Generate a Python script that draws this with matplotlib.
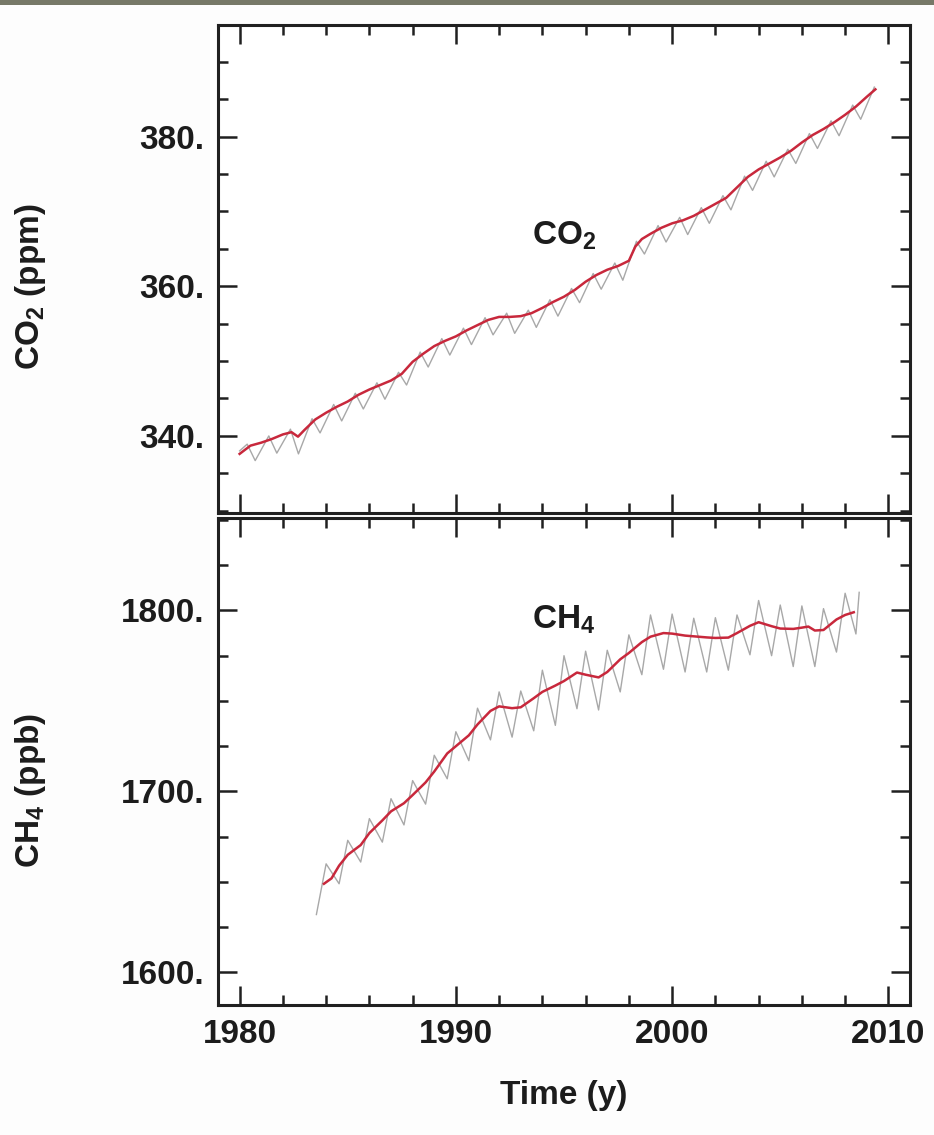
import numpy as np
import matplotlib
matplotlib.use("Agg")
import matplotlib.pyplot as plt
from matplotlib.ticker import MultipleLocator, FormatStrFormatter
from matplotlib.patches import Rectangle

plt.rcParams['font.family'] = ['Liberation Sans', 'DejaVu Sans']
plt.rcParams['font.weight'] = 'bold'
plt.rcParams['axes.labelweight'] = 'bold'
plt.rcParams['mathtext.fontset'] = 'custom'
plt.rcParams['mathtext.rm'] = 'Liberation Sans:bold'
plt.rcParams['mathtext.it'] = 'Liberation Sans:bold'
plt.rcParams['mathtext.bf'] = 'Liberation Sans:bold'
plt.rcParams['mathtext.default'] = 'rm'

# CO2 trend (red)
co2_t = [1980.0, 1980.5, 1981.0, 1981.5, 1982.0, 1982.4, 1982.7, 1983.0, 1983.5, 1984.0,
         1984.5, 1985.0, 1985.5, 1986.0, 1986.5, 1987.0, 1987.5, 1988.0, 1988.5, 1989.0,
         1989.5, 1990.0, 1990.5, 1991.0, 1991.5, 1992.0, 1992.5, 1993.0, 1993.5, 1994.0,
         1994.5, 1995.0, 1995.5, 1996.0, 1996.5, 1997.0, 1997.5, 1998.0, 1998.3, 1998.6,
         1999.0, 1999.5, 2000.0, 2000.5, 2001.0, 2001.5, 2002.0, 2002.5, 2003.0, 2003.5,
         2004.0, 2004.5, 2005.0, 2005.5, 2006.0, 2006.5, 2007.0, 2007.5, 2008.0, 2008.5,
         2009.0, 2009.4]
co2_trend = [337.6, 338.7, 339.1, 339.6, 340.2, 340.5, 339.9, 340.8, 342.2, 343.1,
             343.9, 344.6, 345.5, 346.2, 346.8, 347.4, 348.3, 349.9, 351.0, 352.0,
             352.7, 353.3, 354.1, 354.8, 355.5, 355.9, 355.9, 356.0, 356.4, 357.1,
             357.9, 358.6, 359.5, 360.6, 361.5, 362.2, 362.7, 363.4, 365.3, 366.3,
             367.0, 367.8, 368.4, 368.8, 369.4, 370.2, 371.0, 371.8, 373.2, 374.6,
             375.6, 376.4, 377.2, 378.1, 379.2, 380.2, 381.0, 381.9, 382.9, 384.0,
             385.3, 386.3]

# CO2 monthly values with seasonal cycle (gray), peaks and troughs
co2_gt = [1980.0, 1980.35, 1980.72, 1981.35, 1981.72, 1982.35, 1982.72, 1983.35, 1983.72,
          1984.35, 1984.72, 1985.35, 1985.72, 1986.35, 1986.72, 1987.35, 1987.72,
          1988.35, 1988.72, 1989.35, 1989.72, 1990.35, 1990.72, 1991.35, 1991.72,
          1992.35, 1992.72, 1993.35, 1993.72, 1994.35, 1994.72, 1995.35, 1995.72,
          1996.35, 1996.72, 1997.35, 1997.72, 1998.35, 1998.72, 1999.35, 1999.72,
          2000.35, 2000.72, 2001.35, 2001.72, 2002.35, 2002.72, 2003.35, 2003.72,
          2004.35, 2004.72, 2005.35, 2005.72, 2006.35, 2006.72, 2007.35, 2007.72,
          2008.35, 2008.72, 2009.35]
co2_gray = [338.0, 338.9, 336.7, 340.0, 337.7, 340.9, 337.6, 342.3, 340.4,
            344.2, 342.0, 345.7, 343.6, 347.1, 344.9, 348.5, 346.8,
            351.2, 349.2, 353.0, 350.8, 354.4, 352.2, 355.8, 353.5,
            356.4, 353.7, 356.8, 354.5, 358.2, 356.0, 359.7, 357.8,
            361.7, 359.6, 363.1, 360.8, 366.0, 364.3, 368.1, 365.9,
            369.2, 366.9, 370.5, 368.4, 372.1, 370.2, 374.7, 372.8,
            376.7, 374.6, 378.3, 376.4, 380.4, 378.4, 382.1, 380.1,
            384.2, 382.3, 386.6]

# CH4 trend (red)
ch4_t = [1983.9, 1984.25, 1984.6, 1985.0, 1985.6, 1986.0, 1986.6, 1987.0, 1987.6, 1988.0,
         1988.6, 1989.0, 1989.6, 1990.0, 1990.6, 1991.0, 1991.6, 1992.0, 1992.6, 1993.0,
         1993.6, 1994.0, 1994.6, 1995.0, 1995.6, 1996.0, 1996.6, 1997.0, 1997.6, 1998.0,
         1998.6, 1999.0, 1999.6, 2000.0, 2000.6, 2001.0, 2001.6, 2002.0, 2002.6, 2003.0,
         2003.6, 2004.0, 2004.6, 2005.0, 2005.6, 2006.0, 2006.3, 2006.6, 2007.0, 2007.6,
         2008.0, 2008.4]
ch4_trend = [1649, 1652, 1659, 1665, 1670.4, 1677, 1684, 1689, 1693.5, 1698,
             1705, 1711, 1721, 1725, 1731, 1737, 1744.5, 1747, 1746, 1746.5,
             1751.5, 1755, 1758.5, 1761, 1765.7, 1764.5, 1763, 1766, 1773, 1776.5,
             1782.5, 1785.5, 1787.5, 1787.2, 1786.1, 1785.7, 1785.1, 1784.8, 1785.0, 1787.5,
             1791.5, 1793.5, 1791.3, 1790, 1789.8, 1790.5, 1791.1, 1788.9, 1789.2, 1795,
             1797.5, 1799]

# CH4 monthly values with seasonal cycle (gray)
ch4_gt = [1983.55, 1984.0, 1984.6, 1985.0, 1985.6, 1986.0, 1986.6, 1987.0, 1987.6, 1988.0,
          1988.6, 1989.0, 1989.6, 1990.0, 1990.6, 1991.0, 1991.6, 1992.0, 1992.6, 1993.0,
          1993.6, 1994.0, 1994.6, 1995.0, 1995.6, 1996.0, 1996.6, 1997.0, 1997.6, 1998.0,
          1998.6, 1999.0, 1999.6, 2000.0, 2000.6, 2001.0, 2001.6, 2002.0, 2002.6, 2003.0,
          2003.6, 2004.0, 2004.6, 2005.0, 2005.6, 2006.0, 2006.6, 2007.0, 2007.6, 2008.0,
          2008.5, 2008.65]
ch4_gray = [1632, 1660, 1649, 1673, 1661, 1685, 1672, 1696, 1681.5, 1706,
            1693, 1720, 1707, 1733, 1717, 1746, 1728.5, 1755, 1730, 1755.5,
            1733.5, 1767, 1736.5, 1775, 1745.7, 1777.5, 1745, 1778, 1755, 1786.5,
            1764.5, 1797.5, 1767.5, 1798, 1766, 1795.7, 1766, 1796, 1767, 1797.5,
            1775.5, 1805.5, 1775, 1803, 1769, 1802.5, 1769, 1801, 1777, 1809.5,
            1787, 1810]

xticks = [1980, 1990, 2000, 2010]

FS = 24
RED = '#c8283c'
GRAY = '#a8a8a8'
INK = '#1c1c1c'


def style_axes(ax):
    ax.set_xlim(1979.0, 2011.0)
    ax.set_xticks(xticks)
    ax.xaxis.set_minor_locator(MultipleLocator(2))
    ax.tick_params(which='both', direction='in', top=True, right=True,
                   width=1.8, labelsize=FS, color='#202020', labelcolor=INK)
    ax.tick_params(which='major', length=14, pad=10)
    ax.tick_params(which='minor', length=7)
    for s in ax.spines.values():
        s.set_linewidth(2.2)
        s.set_color('#202020')


fig = plt.figure(figsize=(9.34, 11.35), dpi=100)
fig.patch.set_facecolor('#fdfdfd')
fig.patches.append(Rectangle((0, 1 - 5 / 1135), 1, 5 / 1135, transform=fig.transFigure,
                             facecolor='#777968', edgecolor='none'))

ax1 = fig.add_axes([0.2334, 0.548, 0.7409, 0.430])
ax2 = fig.add_axes([0.2334, 0.1145, 0.7409, 0.429])

# top panel
ax1.plot(co2_gt, co2_gray, color=GRAY, lw=1.0)
ax1.plot(co2_t, co2_trend, color=RED, lw=1.8)
style_axes(ax1)
ax1.set_ylim(329.7, 394.9)
ax1.set_yticks([340, 360, 380])
ax1.yaxis.set_major_formatter(FormatStrFormatter('%d.'))
ax1.yaxis.set_minor_locator(MultipleLocator(5))
ax1.tick_params(labelbottom=False)
ax1.set_ylabel('CO$_2$ (ppm)', fontsize=FS, color=INK)
ax1.yaxis.set_label_coords(-0.245, 0.463)
ax1.text(1993.5, 365.5, 'CO$_2$', fontsize=FS, ha='left', va='baseline', color=INK)

# bottom panel
ax2.plot(ch4_gt, ch4_gray, color=GRAY, lw=1.0)
ax2.plot(ch4_t, ch4_trend, color=RED, lw=1.8)
style_axes(ax2)
ax2.set_ylim(1582, 1851)
ax2.set_yticks([1600, 1700, 1800])
ax2.yaxis.set_major_formatter(FormatStrFormatter('%d.'))
ax2.yaxis.set_minor_locator(MultipleLocator(25))
ax2.set_ylabel('CH$_4$ (ppb)', fontsize=FS, color=INK)
ax2.yaxis.set_label_coords(-0.245, 0.44)
ax2.set_xlabel('Time (y)', fontsize=FS, color=INK, labelpad=22)
ax2.text(1993.5, 1790, 'CH$_4$', fontsize=FS, ha='left', va='baseline', color=INK)

fig.savefig('out.png', dpi=100, facecolor=fig.get_facecolor())
